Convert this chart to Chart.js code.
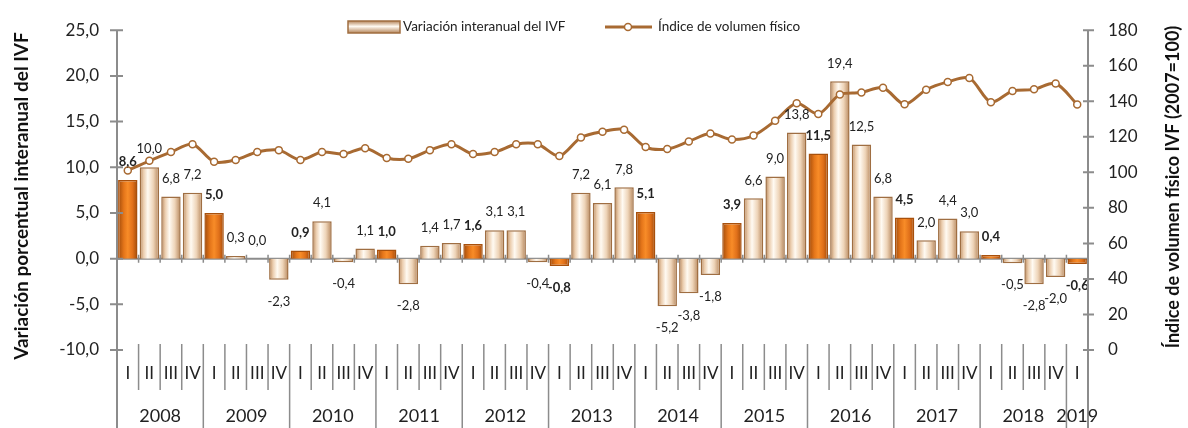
<!DOCTYPE html>
<html>
<head>
<meta charset="utf-8">
<script src="https://cdn.jsdelivr.net/npm/chart.js@4/dist/chart.umd.min.js"></script>
<style>
  html, body { margin: 0; padding: 0; background: #fff; }
  canvas { display: block; }
</style>
</head>
<body>
<canvas id="ivf_chart" width="1188" height="428"></canvas>
<script>
// datos
const years = ['2008','2009','2010','2011','2012','2013','2014','2015','2016','2017','2018','2019'];
const quarterNames = ['I','II','III','IV'];
const variacion = [8.6, 10.0, 6.8, 7.2, 5.0, 0.3, 0.0, -2.3, 0.9, 4.1, -0.4, 1.1,
                   1.0, -2.8, 1.4, 1.7, 1.6, 3.1, 3.1, -0.4, -0.8, 7.2, 6.1, 7.8,
                   5.1, -5.2, -3.8, -1.8, 3.9, 6.6, 9.0, 13.8, 11.5, 19.4, 12.5, 6.8,
                   4.5, 2.0, 4.4, 3.0, 0.4, -0.5, -2.8, -2.0, -0.6];
const indice = [101, 106.5, 111.4, 115.8, 105.9, 107, 111.4, 112.5, 107, 111.4, 110.3, 113.6,
                108.1, 107.6, 112.5, 115.8, 110.3, 111.4, 115.8, 115.8, 109.2, 119.6, 122.9, 124,
                114.2, 113.1, 117.4, 121.8, 118.5, 120.7, 129, 138.9, 132.8, 143.8, 144.9, 147.6,
                138.3, 146.5, 150.9, 153.1, 139.5, 145.8, 146.7, 150, 138.2];

const labels = variacion.map((v, i) => quarterNames[i % 4]);

const FONT = 'Lato, "Open Sans", sans-serif';
const TXT = '#222222';
const AXIS = '#8c8c8c';
const LINE = '#a86a32';

function isOrange(i) { return i % 4 === 0; }

function barFill(c) {
  const chart = c.chart;
  const orange = isOrange(c.dataIndex);
  if (!chart.chartArea) return orange ? '#ee8020' : '#f3dcc4';
  const xs = chart.scales.x;
  const cx = xs.getPixelForValue(c.dataIndex);
  const hw = xs.width / labels.length * 0.9 / 2;
  const g = chart.ctx.createLinearGradient(cx - hw, 0, cx + hw, 0);
  if (orange) {
    g.addColorStop(0, '#a04a0a');
    g.addColorStop(0.3, '#e5761a');
    g.addColorStop(0.5, '#f88c28');
    g.addColorStop(0.75, '#e0701a');
    g.addColorStop(1, '#a04a0a');
  } else {
    g.addColorStop(0, '#b5855a');
    g.addColorStop(0.2, '#ebcdae');
    g.addColorStop(0.42, '#fffaf2');
    g.addColorStop(0.7, '#eed4b8');
    g.addColorStop(1, '#b5855a');
  }
  return g;
}

// ejes, separadores, etiquetas de años, títulos y leyenda
const decor = {
  id: 'decor',
  beforeDatasetsDraw(chart) {
    const { ctx, chartArea: a, scales: { y } } = chart;
    const n = labels.length;
    const cw = (a.right - a.left) / n;
    const y0 = y.getPixelForValue(0);
    ctx.save();
    ctx.strokeStyle = AXIS;
    ctx.lineWidth = 2;
    ctx.beginPath();
    ctx.moveTo(a.left, y0); ctx.lineTo(a.right, y0);
    ctx.stroke();
    ctx.lineWidth = 1.5;
    ctx.beginPath();
    for (let i = 0; i <= n; i++) {
      const px = a.left + i * cw;
      ctx.moveTo(px, y0 - 4); ctx.lineTo(px, y0 + 4);
    }
    ctx.stroke();
    ctx.restore();
  },
  afterDraw(chart) {
    const { ctx, chartArea: a, scales: { x, y, y1 } } = chart;
    const n = labels.length;
    const cw = (a.right - a.left) / n;
    const H = chart.height;
    ctx.save();
    ctx.strokeStyle = AXIS;
    ctx.lineWidth = 2;
    ctx.beginPath();
    ctx.moveTo(a.left, a.top); ctx.lineTo(a.left, H);
    ctx.moveTo(a.right, a.top); ctx.lineTo(a.right, H);
    y.ticks.forEach(t => {
      const py = y.getPixelForValue(t.value);
      ctx.moveTo(a.left - 7, py); ctx.lineTo(a.left + 6, py);
    });
    y1.ticks.forEach(t => {
      const py = y1.getPixelForValue(t.value);
      ctx.moveTo(a.right - 5, py); ctx.lineTo(a.right + 6, py);
    });
    ctx.stroke();
    ctx.lineWidth = 1.5;
    ctx.beginPath();
    for (let i = 1; i < n; i++) {
      const px = a.left + i * cw;
      ctx.moveTo(px, a.bottom - 6);
      ctx.lineTo(px, i % 4 === 0 ? H : a.bottom + 40);
    }
    ctx.stroke();

    // años
    ctx.fillStyle = TXT;
    ctx.font = '18px ' + FONT;
    ctx.textAlign = 'center';
    ctx.textBaseline = 'middle';
    years.forEach((yr, k) => {
      const first = k * 4;
      const last = Math.min(k * 4 + 3, n - 1);
      const cx = (x.getPixelForValue(first) + x.getPixelForValue(last)) / 2;
      ctx.fillText(yr, cx, 416);
    });

    // títulos de ejes
    ctx.fillStyle = '#111';
    ctx.font = 'bold 19px ' + FONT;
    ctx.save();
    ctx.translate(22, 196);
    ctx.rotate(-Math.PI / 2);
    ctx.fillText('Variación porcentual interanual del IVF', 0, 0);
    ctx.restore();
    ctx.font = 'bold 18px ' + FONT;
    ctx.save();
    ctx.translate(1173, 187);
    ctx.rotate(-Math.PI / 2);
    ctx.fillText('Índice de volumen físico IVF (2007=100)', 0, 0);
    ctx.restore();

    // leyenda
    const g = ctx.createLinearGradient(0, 21, 0, 33);
    g.addColorStop(0, '#b5855a');
    g.addColorStop(0.45, '#fffaf2');
    g.addColorStop(1, '#b5855a');
    ctx.fillStyle = g;
    ctx.fillRect(348, 21, 52, 12);
    ctx.strokeStyle = '#a06e40';
    ctx.lineWidth = 1.5;
    ctx.strokeRect(348, 21, 52, 12);
    ctx.fillStyle = TXT;
    ctx.font = '13.5px ' + FONT;
    ctx.textAlign = 'left';
    ctx.fillText('Variación interanual del IVF', 403, 27);
    ctx.strokeStyle = LINE;
    ctx.lineWidth = 3;
    ctx.beginPath();
    ctx.moveTo(605, 27); ctx.lineTo(652, 27);
    ctx.stroke();
    ctx.beginPath();
    ctx.arc(628, 27, 3.5, 0, Math.PI * 2);
    ctx.fillStyle = '#fff';
    ctx.fill();
    ctx.lineWidth = 1.5;
    ctx.stroke();
    ctx.fillStyle = TXT;
    ctx.fillText('Índice de volumen físico', 658, 27);
    ctx.restore();
  }
};

// etiquetas de datos de las barras
const barLabels = {
  id: 'barLabels',
  afterDatasetsDraw(chart) {
    const { ctx } = chart;
    const meta = chart.getDatasetMeta(0);
    ctx.save();
    ctx.fillStyle = TXT;
    ctx.textAlign = 'center';
    ctx.textBaseline = 'middle';
    meta.data.forEach((el, i) => {
      const v = variacion[i];
      ctx.font = (isOrange(i) ? 'bold ' : '') + '13px ' + FONT;
      const py = v >= 0 ? el.y - 18 : el.y + 22;
      ctx.fillText(v.toFixed(1).replace('.', ','), el.x, py);
    });
    ctx.restore();
  }
};

new Chart(document.getElementById('ivf_chart'), {
  type: 'bar',
  data: {
    labels: labels,
    datasets: [
      {
        label: 'Variación interanual del IVF',
        data: variacion,
        yAxisID: 'y',
        order: 1,
        backgroundColor: barFill,
        borderColor: c => isOrange(c.dataIndex) ? '#a8500c' : '#9f6e42',
        borderWidth: 1.5,
        categoryPercentage: 0.9,
        barPercentage: 1
      },
      {
        type: 'line',
        label: 'Índice de volumen físico',
        data: indice,
        yAxisID: 'y1',
        order: 0,
        borderColor: LINE,
        borderWidth: 3,
        tension: 0.3,
        pointRadius: 3.5,
        pointBackgroundColor: '#ffffff',
        pointBorderColor: LINE,
        pointBorderWidth: 1.5
      }
    ]
  },
  options: {
    responsive: false,
    animation: false,
    devicePixelRatio: 1,
    layout: { padding: { top: 20, left: 0, right: 0, bottom: 0 } },
    plugins: {
      legend: { display: false },
      tooltip: { enabled: false }
    },
    scales: {
      x: {
        grid: { display: false, drawTicks: false },
        border: { display: false },
        ticks: {
          autoSkip: false,
          maxRotation: 0,
          padding: 13,
          color: TXT,
          font: { family: FONT, size: 17 }
        },
        afterFit(s) { s.height = 78; }
      },
      y: {
        position: 'left',
        min: -10,
        max: 25,
        grid: { display: false, drawTicks: false },
        border: { display: false },
        ticks: {
          stepSize: 5,
          padding: 18,
          color: TXT,
          font: { family: FONT, size: 17 },
          callback: v => v.toFixed(1).replace('.', ',')
        },
        afterFit(s) { s.width = 117; }
      },
      y1: {
        position: 'right',
        min: 0,
        max: 180,
        grid: { display: false, drawTicks: false },
        border: { display: false },
        ticks: {
          stepSize: 20,
          padding: 20,
          color: TXT,
          font: { family: FONT, size: 17 }
        },
        afterFit(s) { s.width = 100; }
      }
    }
  },
  plugins: [decor, barLabels]
});
</script>
</body>
</html>
